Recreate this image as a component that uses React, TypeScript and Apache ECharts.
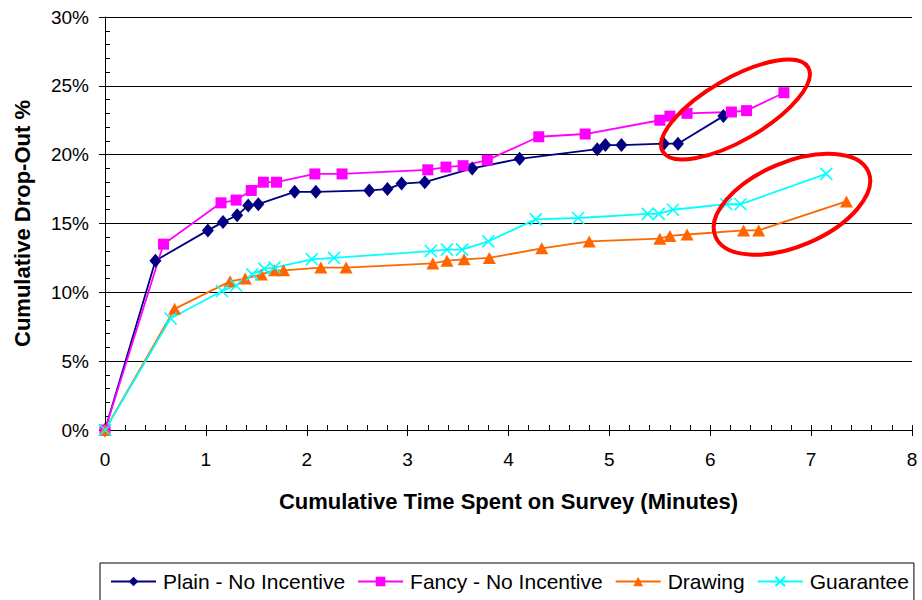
import React, { useEffect, useRef } from "react";
import * as echarts from "echarts";

// Cumulative minutes spent on the survey at each drop-out checkpoint
const PLAIN_X = [0, 0.5, 1.02, 1.17, 1.31, 1.42, 1.52, 1.88, 2.09, 2.62, 2.8, 2.94, 3.17, 3.64, 4.11, 4.88, 4.96, 5.12, 5.54, 5.68, 6.13];
const PLAIN_Y = [0, 12.3, 14.5, 15.1, 15.6, 16.3, 16.4, 17.3, 17.3, 17.4, 17.5, 17.9, 18.0, 19.0, 19.7, 20.4, 20.7, 20.7, 20.8, 20.8, 22.8];

const FANCY_X = [0, 0.58, 1.15, 1.3, 1.45, 1.57, 1.7, 2.08, 2.35, 3.2, 3.38, 3.55, 3.79, 4.3, 4.76, 5.5, 5.6, 5.77, 6.21, 6.36, 6.73];
const FANCY_Y = [0, 13.5, 16.5, 16.7, 17.4, 18.0, 18.0, 18.6, 18.6, 18.9, 19.1, 19.2, 19.6, 21.3, 21.5, 22.5, 22.8, 23.0, 23.1, 23.2, 24.5];

const DRAWING_X = [0, 0.69, 1.24, 1.39, 1.55, 1.68, 1.77, 2.14, 2.39, 3.25, 3.39, 3.56, 3.81, 4.33, 4.8, 5.5, 5.6, 5.77, 6.33, 6.48, 7.35];
const DRAWING_Y = [0, 8.8, 10.8, 11.0, 11.3, 11.6, 11.6, 11.8, 11.8, 12.1, 12.3, 12.4, 12.5, 13.2, 13.7, 13.9, 14.1, 14.2, 14.5, 14.5, 16.6];

const GUARANTEE_X = [0, 0.65, 1.16, 1.3, 1.46, 1.58, 1.68, 2.05, 2.27, 3.23, 3.39, 3.54, 3.8, 4.27, 4.69, 5.38, 5.49, 5.63, 6.16, 6.3, 7.15];
const GUARANTEE_Y = [0, 8.1, 10.1, 10.5, 11.3, 11.7, 11.8, 12.4, 12.5, 13.0, 13.1, 13.1, 13.7, 15.3, 15.4, 15.7, 15.7, 16.0, 16.4, 16.4, 18.6];

const SERIES_NAMES = ["Plain - No Incentive", "Fancy - No Incentive", "Drawing", "Guarantee"];

// Highlight rings drawn around the late-finishing groups (centre in data units)
const HIGHLIGHTS = [
  { center: [6.25, 23.28], rx: 84, ry: 31, angle: 30 },
  { center: [6.81, 16.4], rx: 83, ry: 42, angle: 23 },
];

const FONT = "'Liberation Sans', Arial, Helvetica, sans-serif";
const CROSS = "path://M0,0L10,10M10,0L0,10";

const pairs = (xs: number[], ys: number[]) => xs.map((x, i) => [x, ys[i]]);

export default function App() {
  const ref = useRef<HTMLDivElement>(null);

  useEffect(() => {
    if (!ref.current) return;
    const chart = echarts.init(ref.current, null, { renderer: "svg" });

    const lineSeries = (
      name: string,
      data: number[][],
      color: string,
      symbol: string,
      symbolSize: number | number[],
      extraItem: Record<string, unknown> = {}
    ) => ({
      name,
      type: "line",
      xAxisIndex: 0,
      yAxisIndex: 0,
      data,
      symbol,
      symbolSize,
      showAllSymbol: true,
      lineStyle: { color, width: 1.8 },
      itemStyle: { color, opacity: 1, ...extraItem },
      emphasis: { disabled: true },
    });

    chart.setOption({
      animation: false,
      backgroundColor: "#ffffff",
      textStyle: { fontFamily: FONT },
      grid: { left: 105, right: 10, top: 17, bottom: 170, containLabel: false },
      legend: {
        data: SERIES_NAMES,
        left: 100,
        top: 563,
        orient: "horizontal",
        itemWidth: 45,
        itemHeight: 12,
        itemGap: 12,
        padding: [8, 5, 40, 10],
        borderColor: "#000",
        borderWidth: 1,
        textStyle: { fontSize: 21, color: "#000", fontFamily: FONT, padding: [0, 0, 0, 2] },
      },
      xAxis: [
        {
          type: "value",
          min: 0,
          max: 8,
          interval: 1,
          position: "bottom",
          name: "Cumulative Time Spent on Survey (Minutes)",
          nameLocation: "middle",
          nameGap: 60,
          nameTextStyle: { fontSize: 22, fontWeight: "bold", color: "#000", fontFamily: FONT },
          axisLine: { show: true, onZero: false, lineStyle: { color: "#000", width: 1 } },
          axisTick: { show: true, inside: false, length: 6, lineStyle: { color: "#000" } },
          axisLabel: { fontSize: 19, color: "#000", margin: 20, fontFamily: FONT },
          splitLine: { show: false },
        },
        {
          type: "value",
          min: 0,
          max: 8,
          interval: 0.2,
          position: "bottom",
          axisLine: { show: false },
          axisTick: { show: true, inside: true, length: 5, lineStyle: { color: "#000" } },
          axisLabel: { show: false },
          splitLine: { show: false },
        },
      ],
      yAxis: [
        {
          type: "value",
          min: 0,
          max: 30,
          interval: 5,
          position: "left",
          name: "Cumulative Drop-Out %",
          nameLocation: "middle",
          nameRotate: 90,
          nameGap: 72,
          nameTextStyle: { fontSize: 22, fontWeight: "bold", color: "#000", fontFamily: FONT },
          axisLine: { show: true, onZero: false, lineStyle: { color: "#000", width: 1 } },
          axisTick: { show: true, inside: false, length: 6, lineStyle: { color: "#000" } },
          axisLabel: { fontSize: 19, color: "#000", margin: 16, formatter: "{value}%", fontFamily: FONT },
          splitLine: { show: true, lineStyle: { color: "#000", width: 1 } },
        },
        {
          type: "value",
          min: 0,
          max: 30,
          interval: 1,
          position: "left",
          axisLine: { show: false },
          axisTick: { show: true, inside: true, length: 5, lineStyle: { color: "#000" } },
          axisLabel: { show: false },
          splitLine: { show: false },
        },
      ],
      series: [
        lineSeries(SERIES_NAMES[0], pairs(PLAIN_X, PLAIN_Y), "#000080", "diamond", [12, 14]),
        lineSeries(SERIES_NAMES[1], pairs(FANCY_X, FANCY_Y), "#FF00FF", "rect", 11),
        lineSeries(SERIES_NAMES[2], pairs(DRAWING_X, DRAWING_Y), "#FF6600", "triangle", [13, 12]),
        lineSeries(SERIES_NAMES[3], pairs(GUARANTEE_X, GUARANTEE_Y), "#00FFFF", CROSS, 12, {
          borderColor: "#00FFFF",
          borderWidth: 1.6,
        }),
      ],
    });

    const rings = HIGHLIGHTS.map((h) => {
      const [px, py] = chart.convertToPixel({ xAxisIndex: 0, yAxisIndex: 0 }, h.center) as number[];
      return {
        type: "ellipse",
        x: px,
        y: py,
        rotation: (h.angle * Math.PI) / 180,
        shape: { cx: 0, cy: 0, rx: h.rx, ry: h.ry },
        style: { fill: "none", stroke: "#FF0000", lineWidth: 4 },
        z: 100,
        silent: true,
      };
    });
    chart.setOption({ graphic: rings });

    return () => chart.dispose();
  }, []);

  return (
    <div
      ref={ref}
      style={{ position: "fixed", left: 0, top: 0, width: 922, height: 600 }}
    />
  );
}
